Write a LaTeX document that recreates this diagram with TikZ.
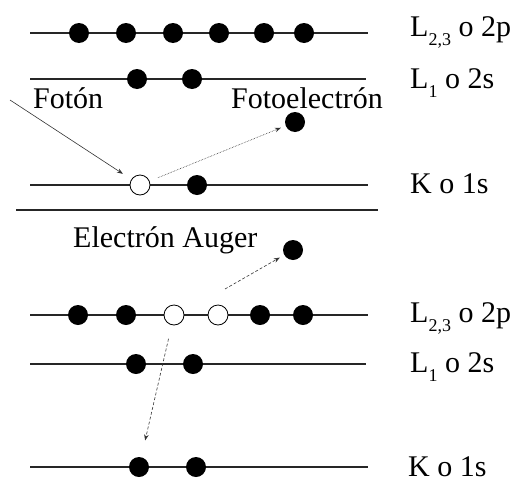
\documentclass[tikz,border=0pt]{standalone}
\usepackage{fontspec}
\setmainfont{Liberation Serif}
\usetikzlibrary{arrows.meta,positioning}

\begin{document}
\begin{tikzpicture}[x=1pt,y=-1pt,
  level/.style={line width=1.7pt, black!85},
  full/.style={circle,fill=black,minimum size=20pt,inner sep=0pt},
  hole/.style={circle,draw=black,fill=white,line width=0.8pt,minimum size=20pt,inner sep=0pt},
  txt/.style={font=\fontsize{30}{35}\selectfont, anchor=base west, inner sep=0pt},
  jump/.style={black!80, line width=0.6pt, -{Stealth[length=6pt,width=4.5pt]}},
]
  \useasboundingbox (0,0) rectangle (516,482);

  %% Estado inicial
  \draw[level] (30,33) -- (368,33);
  \draw[level] (30,79) -- (366,79);
  \draw[level] (30,185) -- (368,185);
  \foreach \x [count=\i] in {79,126,173,219,264,304}
    \node[full] (pa\i) at (\x,33) {};
  \node[full] (sa1) at (137,79) {};
  \node[full] (sa2) at (192,79) {};
  \node[hole] (ka1) at (140,185) {};
  \node[full] (ka2) at (197,185) {};
  \node[full] (fe) at (295,122) {};

  \node[txt] (foton) at (33,108) {Fotón};
  \node[txt] (fotoel) at (231,108) {Fotoelectrón};

  %% Fotón y fotoelectrón
  \coordinate (src) at (10,100);
  \draw[jump, shorten >=10pt] (src) -- (ka1);
  \draw[jump, densely dotted, shorten <=9pt, shorten >=5pt] (ka1) -- (fe);

  %% Separacion
  \draw[level] (16,210) -- (378,210);

  %% Estado final
  \draw[level] (30,315) -- (368,315);
  \draw[level] (30,364) -- (366,364);
  \draw[level] (30,467) -- (368,467);
  \node[full] (pb1) at (78,315) {};
  \node[full] (pb2) at (126,315) {};
  \node[hole] (pb3) at (174,315) {};
  \node[hole] (pb4) at (218,315) {};
  \node[full] (pb5) at (260,315) {};
  \node[full] (pb6) at (303,315) {};
  \node[full] (sb1) at (136,364) {};
  \node[full] (sb2) at (193,364) {};
  \node[full] (kb1) at (139,467) {};
  \node[full] (kb2) at (196,467) {};
  \node[full] (au) at (293,250) {};

  \node[txt] (auger) at (73,247) {Electrón Auger};

  %% Transiciones Auger
  \coordinate (aust) at (225,289);
  \draw[jump, densely dashed, shorten >=5pt] (aust) -- (au);
  \draw[jump, densely dashed, shorten <=14pt, shorten >=17pt] (pb3) -- (kb1);

  %% Niveles
  \node[txt] (lpa) at (410,36) {L\raisebox{-9pt}{\fontsize{18}{18}\selectfont 2,3} o 2p};
  \node[txt] (lsa) at (410,88) {L\raisebox{-9pt}{\fontsize{18}{18}\selectfont 1} o 2s};
  \node[txt] (lka) at (410,193) {K o 1s};
  \node[txt] (lpb) at (410,322) {L\raisebox{-9pt}{\fontsize{18}{18}\selectfont 2,3} o 2p};
  \node[txt] (lsb) at (410,372) {L\raisebox{-9pt}{\fontsize{18}{18}\selectfont 1} o 2s};
  \node[txt] (lkb) at (408,476) {K o 1s};
\end{tikzpicture}
\end{document}
